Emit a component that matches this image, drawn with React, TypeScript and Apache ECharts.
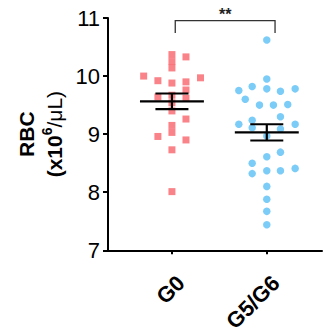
import React, { useEffect, useRef } from "react";
import * as echarts from "echarts";

const categories = ["G0", "G5/G6"];
const yTicks = [7, 8, 9, 10, 11];

// G0 (red squares): values and horizontal jitter (in category units)
const g0Values = [10.37, 10.25, 10.14, 9.88, 9.67, 9.54, 9.40, 9.15, 9.03, 8.73, 8.01,
  10.33, 9.90, 9.76, 9.62, 9.26, 8.90,
  9.92, 9.64, 8.96,
  10.00, 9.97];
const g0Jitter = [0, 0, 0, 0, 0, 0, 0, 0, 0, 0, 0,
  0.148, 0.148, 0.148, 0.148, 0.148, 0.148,
  -0.148, -0.148, -0.148,
  -0.298, 0.301];

// G5/G6 (blue circles)
const g5Values = [10.62, 9.95, 9.75, 9.82, 9.78, 9.74, 9.78, 9.60, 9.50, 9.50, 9.51, 9.30,
  9.24, 9.17, 9.11, 9.17, 9.09, 8.97,
  8.61, 8.69, 8.50, 8.32, 8.37, 8.37, 8.41, 8.10, 7.88, 7.67, 7.44];
const g5Jitter = [0, 0, -0.295, -0.154, 0, 0.144, 0.299, -0.227, -0.077, 0.07, 0.221, 0.144,
  -0.154, -0.295, -0.154, 0.299, 0.144, 0,
  0, 0.144, -0.154, -0.154, 0, 0.144, 0.299, 0, 0, 0, 0];

const means = [9.565, 9.03];
const sems = [0.135, 0.14];

// significance bracket: [xStart, xEnd, yTop, yBottom]
const bracket = [0.035, 1.087, 10.955, 10.74];
const sigLabel = "**";

const RED = "#F7646B";
const BLUE = "#5BBFF6";

export default function App() {
  const ref = useRef<HTMLDivElement>(null);

  useEffect(() => {
    if (!ref.current) return;
    const chart = echarts.init(ref.current, undefined, { renderer: "svg" });

    const meanRender = (params: any, api: any) => {
      const x = api.value(0);
      const m = api.value(1);
      const s = api.value(2);
      const l = api.coord([x - 0.337, m]);
      const r = api.coord([x + 0.337, m]);
      const t = api.coord([x, m + s]);
      const b = api.coord([x, m - s]);
      const half = 16.5;
      const st = { stroke: "#000", lineWidth: 2.2 };
      return {
        type: "group",
        children: [
          { type: "line", shape: { x1: l[0], y1: l[1], x2: r[0], y2: r[1] }, style: st },
          { type: "line", shape: { x1: t[0] - half, y1: t[1], x2: t[0] + half, y2: t[1] }, style: st },
          { type: "line", shape: { x1: b[0] - half, y1: b[1], x2: b[0] + half, y2: b[1] }, style: st },
          { type: "line", shape: { x1: t[0], y1: t[1], x2: b[0], y2: b[1] }, style: st },
        ],
      };
    };

    const bracketRender = (params: any, api: any) => {
      const x0 = api.value(0), x1 = api.value(1), yt = api.value(2), yb = api.value(3);
      const p0 = api.coord([x0, yb]);
      const p1 = api.coord([x0, yt]);
      const p2 = api.coord([x1, yt]);
      const p3 = api.coord([x1, yb]);
      return {
        type: "group",
        children: [
          {
            type: "polyline",
            shape: { points: [p0, p1, p2, p3] },
            style: { stroke: "#333", lineWidth: 1.3, fill: "none" },
          },
          {
            type: "text",
            style: {
              text: sigLabel,
              x: (p1[0] + p2[0]) / 2,
              y: p1[1] + 2,
              align: "center",
              verticalAlign: "bottom",
              fontSize: 16,
              fontWeight: "bold",
              fontFamily: "Liberation Sans, Arial, sans-serif",
              fill: "#222",
            },
          },
        ],
      };
    };

    const font = "Liberation Sans, Arial, sans-serif";

    chart.setOption({
      animation: false,
      grid: { left: 108, right: 3, top: 18, bottom: 83, containLabel: false },
      xAxis: {
        type: "value",
        min: -0.674,
        max: 1.582,
        splitLine: { show: false },
        axisLine: { show: true, onZero: false, lineStyle: { color: "#000", width: 2 } },
        axisTick: { show: true, customValues: [0, 1], length: 4, lineStyle: { color: "#000", width: 2 } },
        axisLabel: {
          customValues: [0.095, 1.095],
          formatter: (v: number) => (v < 0.5 ? categories[0] : categories[1]),
          rotate: 45,
          margin: 29,
          fontSize: 22,
          fontWeight: "bold",
          color: "#000",
          fontFamily: font,
        },
      },
      yAxis: {
        type: "value",
        min: yTicks[0],
        max: yTicks[yTicks.length - 1],
        interval: 1,
        splitLine: { show: false },
        axisLine: { show: true, onZero: false, lineStyle: { color: "#000", width: 2 } },
        axisTick: { show: true, length: 5, lineStyle: { color: "#000", width: 2 } },
        axisLabel: { fontSize: 22, color: "#000", margin: 8, fontFamily: font },
        name: "{b|RBC}\n{b|(x10}{sup|6}{r|/μL)}",
        nameLocation: "middle",
        nameRotate: 90,
        nameGap: 34,
        nameTextStyle: {
          fontFamily: font,
          color: "#000",
          rich: {
            b: { fontSize: 21, fontWeight: "bold", lineHeight: 28, fontFamily: font, color: "#000" },
            sup: { fontSize: 14, fontWeight: "bold", lineHeight: 28, verticalAlign: "top", fontFamily: font, color: "#000", padding: [0, 0, 8, 0] },
            r: { fontSize: 21, fontWeight: "normal", lineHeight: 28, fontFamily: font, color: "#000" },
          },
        },
      },
      series: [
        {
          type: "scatter",
          symbol: "rect",
          symbolSize: 7,
          itemStyle: { color: RED },
          data: g0Values.map((v, i) => [0 + g0Jitter[i], v]),
          z: 2,
        },
        {
          type: "scatter",
          symbol: "circle",
          symbolSize: 7.5,
          itemStyle: { color: BLUE },
          data: g5Values.map((v, i) => [1 + g5Jitter[i], v]),
          z: 2,
        },
        {
          type: "custom",
          renderItem: meanRender,
          data: means.map((m, i) => [i, m, sems[i]]),
          z: 5,
          clip: false,
        },
        {
          type: "custom",
          renderItem: bracketRender,
          data: [bracket],
          z: 5,
          clip: false,
        },
      ],
    });

    return () => chart.dispose();
  }, []);

  return (
    <div
      ref={ref}
      style={{ position: "fixed", left: 0, top: 0, width: 325, height: 335, background: "#fff" }}
    />
  );
}
